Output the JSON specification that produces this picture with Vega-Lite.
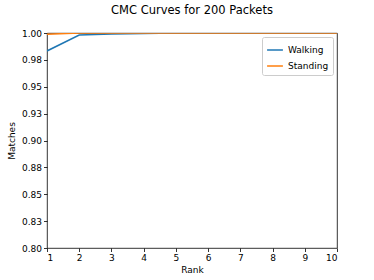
{
  "$schema": "https://vega.github.io/schema/vega-lite/v6.json",
  "width": 290,
  "height": 215,
  "autosize": {"type": "none"},
  "padding": {"left": 47, "top": 33, "right": 37, "bottom": 32},
  "background": "white",
  "title": {"text": "CMC Curves for 200 Packets", "fontSize": 11.5, "fontWeight": "normal", "font": "DejaVu Sans", "color": "black", "offset": 13},
  "config": {
    "font": "DejaVu Sans",
    "view": {"stroke": "black", "strokeWidth": 0.8},
    "axis": {"grid": false, "domain": false, "tickColor": "black", "tickSize": 3.5, "tickWidth": 0.8, "labelFontSize": 9, "labelColor": "black", "titleFontSize": 9, "titleFontWeight": "normal", "titleColor": "black", "labelPadding": 2}
  },
  "data": {"values": [
    {"rank": 1, "value": 0.9833, "series": "Walking"},
    {"rank": 2, "value": 0.9981, "series": "Walking"},
    {"rank": 3, "value": 0.9991, "series": "Walking"},
    {"rank": 4, "value": 0.9995, "series": "Walking"},
    {"rank": 5, "value": 1.0, "series": "Walking"},
    {"rank": 6, "value": 1.0, "series": "Walking"},
    {"rank": 7, "value": 1.0, "series": "Walking"},
    {"rank": 8, "value": 1.0, "series": "Walking"},
    {"rank": 9, "value": 1.0, "series": "Walking"},
    {"rank": 10, "value": 1.0, "series": "Walking"},
    {"rank": 1, "value": 0.9988, "series": "Standing"},
    {"rank": 2, "value": 1.0, "series": "Standing"},
    {"rank": 3, "value": 1.0, "series": "Standing"},
    {"rank": 4, "value": 1.0, "series": "Standing"},
    {"rank": 5, "value": 1.0, "series": "Standing"},
    {"rank": 6, "value": 1.0, "series": "Standing"},
    {"rank": 7, "value": 1.0, "series": "Standing"},
    {"rank": 8, "value": 1.0, "series": "Standing"},
    {"rank": 9, "value": 1.0, "series": "Standing"},
    {"rank": 10, "value": 1.0, "series": "Standing"}
  ]},
  "mark": {"type": "line", "strokeWidth": 1.5, "clip": true},
  "encoding": {
    "x": {"field": "rank", "type": "quantitative", "scale": {"domain": [1, 10], "nice": false, "zero": false}, "axis": {"values": [1,2,3,4,5,6,7,8,9,10], "title": "Rank", "titlePadding": 3}},
    "y": {"field": "value", "type": "quantitative", "scale": {"domain": [0.8, 1.0], "nice": false, "zero": false}, "axis": {"values": [0.8, 0.825, 0.85, 0.875, 0.9, 0.925, 0.95, 0.975, 1.0], "labelExpr": "format(datum.value + 0.00001, '.2f')", "title": "Matches", "titlePadding": 5}},
    "color": {"field": "series", "type": "nominal", "scale": {"domain": ["Walking", "Standing"], "range": ["#1f77b4", "#ff7f0e"]}, "legend": {"title": null, "orient": "top-right", "offset": 4, "symbolType": "stroke", "symbolStrokeWidth": 1.5, "symbolSize": 250, "labelFontSize": 9, "labelColor": "black", "fillColor": "white", "strokeColor": "#cccccc", "padding": 4, "cornerRadius": 2, "rowPadding": 2}},
    "order": {"field": "rank", "type": "quantitative"}
  }
}
